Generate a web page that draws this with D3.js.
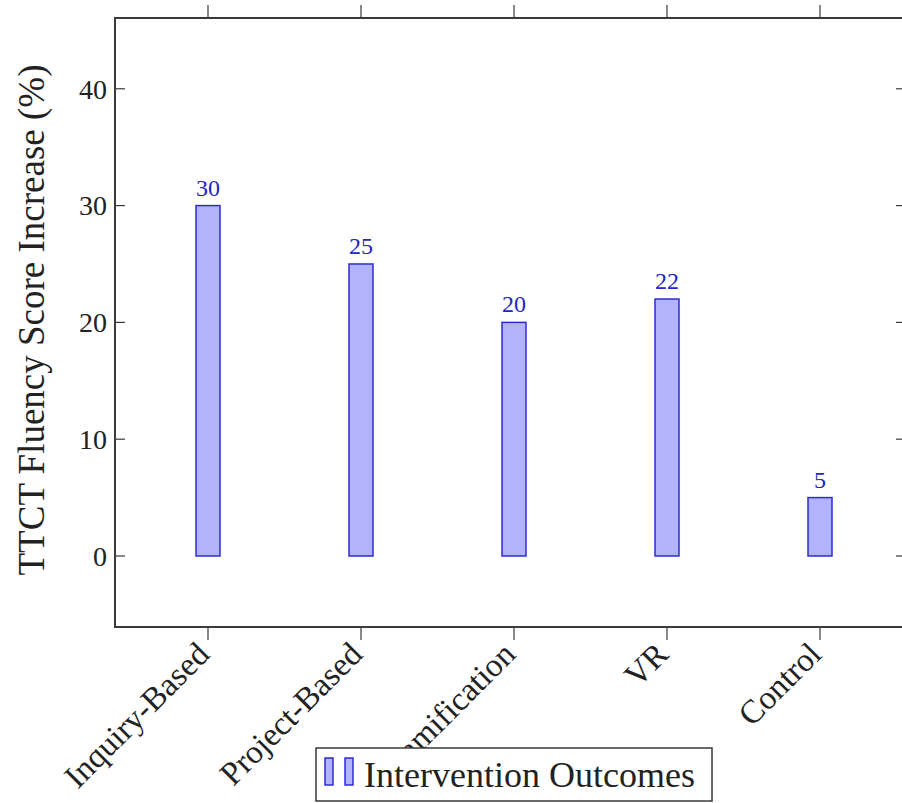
<!DOCTYPE html>
<html><head><meta charset="utf-8">
<script src="https://cdn.jsdelivr.net/npm/d3@7"></script>
<style>body{margin:0;background:#fff}svg{display:block}svg text{font-family:"Liberation Serif",serif}</style>
</head><body>
<svg id="c" width="902" height="803"></svg>
<script>
const categories = ["Inquiry-Based","Project-Based","Gamification","VR","Control"];
const values = [30,25,20,22,5];
const yTicks = [0,10,20,30,40];
const seriesName = "Intervention Outcomes";
const yLabel = "TTCT Fluency Score Increase (%)";

const svg = d3.select("#c");
const L = 115, R = 906, T = 18, B = 627;
const x = d3.scalePoint().domain(categories).range([208, 820]);
const y = d3.scaleLinear().domain([-6.08, 46.06]).range([B, T]);
const axisCol = "#3a3a3a";

// bars
svg.append("g").selectAll("rect").data(categories).join("rect")
  .attr("x", d => x(d) - 12).attr("width", 24)
  .attr("y", (d,i) => y(values[i])).attr("height", (d,i) => y(0) - y(values[i]))
  .attr("fill", "#b3b3fb").attr("stroke", "#2b2bd6").attr("stroke-width", 1.5);

// bar labels
svg.append("g").selectAll("text").data(categories).join("text")
  .attr("x", d => x(d)).attr("y", (d,i) => y(values[i]) - 10)
  .attr("text-anchor","middle").attr("font-size", 24)
  .attr("fill","#2424c8").text((d,i) => values[i]);

// y axis ticks (inward both sides)
const ga = svg.append("g");
yTicks.forEach(t => {
  ga.append("line").attr("x1", L).attr("x2", L+10).attr("y1", y(t)).attr("y2", y(t)).attr("stroke", axisCol).attr("stroke-width",1.2);
  ga.append("line").attr("x1", R-10).attr("x2", R).attr("y1", y(t)).attr("y2", y(t)).attr("stroke", axisCol).attr("stroke-width",1.2);
  ga.append("text").attr("x", L-8).attr("y", y(t)).attr("dy","0.35em").attr("text-anchor","end")
    .attr("font-size", 28).attr("fill","#222").text(t);
});
// x ticks (outward top and bottom)
categories.forEach(c => {
  ga.append("line").attr("x1", x(c)).attr("x2", x(c)).attr("y1", T-13).attr("y2", T).attr("stroke", axisCol).attr("stroke-width",1.2);
  ga.append("line").attr("x1", x(c)).attr("x2", x(c)).attr("y1", B).attr("y2", B+13).attr("stroke", axisCol).attr("stroke-width",1.2);
  ga.append("text").attr("transform", `translate(${x(c)-5},${B+21}) rotate(-45)`)
    .attr("text-anchor","end").attr("dy","0.35em")
    .attr("font-size", 33).attr("fill","#222").text(c);
});
// frame
svg.append("rect").attr("x", L).attr("y", T).attr("width", R-L).attr("height", B-T)
  .attr("fill","none").attr("stroke", axisCol).attr("stroke-width", 2);

// y label
svg.append("text").attr("transform", `translate(31,${(65+575)/2}) rotate(-90)`)
  .attr("text-anchor","middle").attr("dy","0.35em")
  .attr("font-size", 37).attr("fill","#222").text(yLabel);

// legend
const lg = svg.append("g");
lg.append("rect").attr("x",316).attr("y",748).attr("width",396).attr("height",53)
  .attr("fill","#fff").attr("stroke", axisCol).attr("stroke-width",1.5);
[325,345].forEach(px => lg.append("rect").attr("x",px).attr("y",758).attr("width",8).attr("height",27)
  .attr("fill","#b3b3fb").attr("stroke","#2b2bd6").attr("stroke-width",1.5));
lg.append("text").attr("x",364).attr("y",774).attr("dy","0.35em")
  .attr("font-size", 36).attr("fill","#222").text(seriesName);
</script>
</body></html>
